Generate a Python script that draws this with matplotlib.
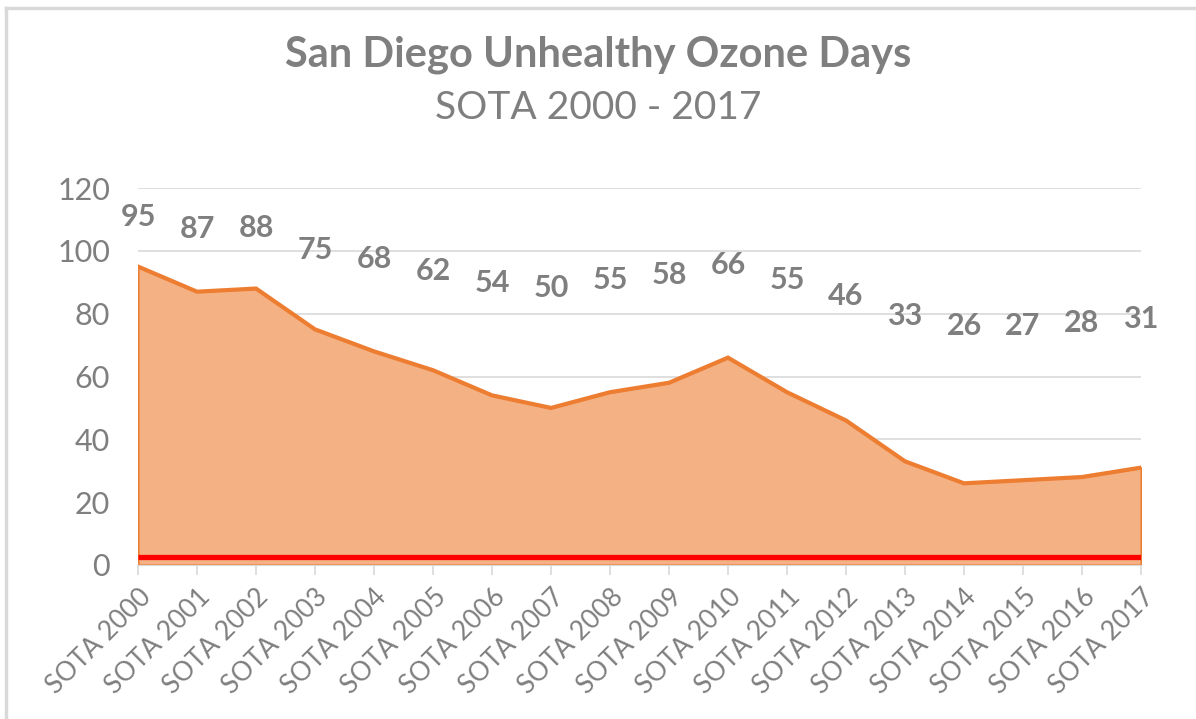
import matplotlib
matplotlib.use("Agg")
import matplotlib.pyplot as plt
from matplotlib.lines import Line2D

# ---- data ----
categories = ["SOTA 2000", "SOTA 2001", "SOTA 2002", "SOTA 2003", "SOTA 2004", "SOTA 2005",
              "SOTA 2006", "SOTA 2007", "SOTA 2008", "SOTA 2009", "SOTA 2010", "SOTA 2011",
              "SOTA 2012", "SOTA 2013", "SOTA 2014", "SOTA 2015", "SOTA 2016", "SOTA 2017"]
ozone_days = [95, 87, 88, 75, 68, 62, 54, 50, 55, 58, 66, 55, 46, 33, 26, 27, 28, 31]
standard_line = [2.7, 2.7, 2.7, 2.7, 2.7, 2.7, 2.7, 2.7, 2.7, 2.7, 2.7, 2.7, 2.7, 2.7, 2.7, 2.7, 2.7, 2.7]
label_heights = [110.8, 106.9, 107.4, 100.4, 97.4, 93.6, 89.9, 88.3, 90.7, 92.3, 95.5, 90.7,
                 85.7, 79.3, 76.1, 76.1, 77.0, 78.3]
y_ticks = [0, 20, 40, 60, 80, 100, 120]

FONT = ["Lato", "DejaVu Sans"]
plt.rcParams["font.family"] = FONT
GRAY = "#7f7f7f"
GRID = "#d9d9d9"
ORANGE = "#ED7D31"
FILL = "#F4B183"

fig = plt.figure(figsize=(11.96, 7.19), dpi=100)
ax = fig.add_axes([138 / 1196, 1 - 565 / 719, (1141 - 138) / 1196, (565 - 188) / 719])

x = list(range(len(categories)))
ax.fill_between(x, 0, ozone_days, facecolor=FILL, edgecolor=ORANGE, linewidth=1.5, zorder=2)
ax.plot(x, ozone_days, color=ORANGE, linewidth=3, solid_joinstyle="miter", zorder=3)
ax.plot(x, standard_line, color="#FF0000", linewidth=3.8, solid_capstyle="butt", zorder=4)

for xi, v, h in zip(x, ozone_days, label_heights):
    ax.text(xi, h, str(v), ha="center", va="center", fontsize=22, fontweight="bold",
            color=GRAY, zorder=5)

ax.set_xlim(0, len(categories) - 1)
ax.set_ylim(0, 120)
ax.set_yticks(y_ticks)
ax.set_yticklabels([str(t) for t in y_ticks])
ax.set_xticks(x)
ax.set_xticklabels(categories, rotation=45, ha="right", rotation_mode="anchor")
ax.yaxis.grid(True, color=GRID, linewidth=1.2, zorder=0)
ax.set_axisbelow(True)
for s in ["top", "right", "left"]:
    ax.spines[s].set_visible(False)
ax.spines["bottom"].set_color(GRID)
ax.tick_params(axis="y", length=0, pad=20, labelsize=22, labelcolor=GRAY)
ax.tick_params(axis="x", length=7, width=1.2, color=GRID, pad=7, labelsize=19, labelcolor=GRAY)

fig.text(0.5, 1 - 55 / 719, "San Diego Unhealthy Ozone Days", ha="center", va="center",
         fontsize=30, fontweight="bold", color=GRAY)
fig.text(0.5, 1 - 108 / 719, "SOTA 2000 - 2017", ha="center", va="center",
         fontsize=28, color=GRAY)

# chart border
fig.add_artist(Line2D([6 / 1196, 1], [1 - 8 / 719, 1 - 8 / 719], transform=fig.transFigure,
                      color=GRID, linewidth=2.5))
fig.add_artist(Line2D([6 / 1196, 6 / 1196], [0, 1 - 8 / 719], transform=fig.transFigure,
                      color=GRID, linewidth=2.5))

fig.savefig("out.png", dpi=100)
